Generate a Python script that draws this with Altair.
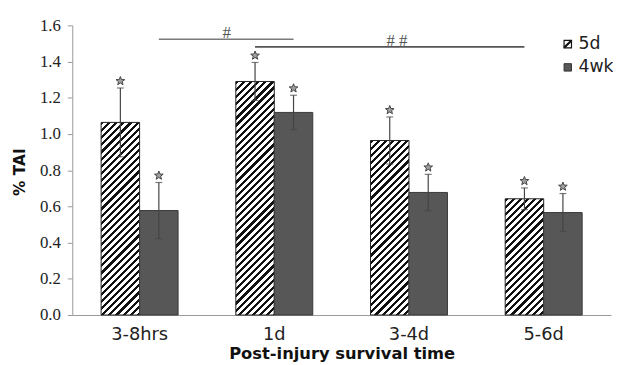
import altair as alt
import pandas as pd
import math

# ---------------- data ----------------
categories = ["3-8hrs", "1d", "3-4d", "5-6d"]
series = ["5d", "4wk"]
mean_5d = [1.064, 1.29, 0.964, 0.642]
err_5d = [0.19, 0.105, 0.13, 0.06]
mean_4wk = [0.577, 1.119, 0.677, 0.566]
err_4wk = [0.155, 0.095, 0.10, 0.105]
y_ticks = [0.0, 0.2, 0.4, 0.6, 0.8, 1.0, 1.2, 1.4, 1.6]

sig_labels = ["#", "# #"]
sig_from = ["3-8hrs", "1d"]
sig_to = ["1d", "5-6d"]
sig_level = [1.523, 1.481]

# ---------------- layout / style ----------------
PLOT_W, PLOT_H = 545, 293
Y_MAX = 1.6
PX_PER_UNIT = PLOT_H / Y_MAX
PAD_INNER = 0.4286
BAR_W = PLOT_W / len(categories) * (1 - PAD_INNER) / 2
GRAY = "#575757"
AXIS_GRAY = "#9a9a9a"
ERR_COL = "#444444"
SERIF = "Liberation Serif, Times New Roman, serif"

rows = []
for i, c in enumerate(categories):
    rows.append({"cat": c, "series": "5d", "mean": mean_5d[i],
                 "lo": mean_5d[i] - err_5d[i], "hi": mean_5d[i] + err_5d[i]})
    rows.append({"cat": c, "series": "4wk", "mean": mean_4wk[i],
                 "lo": mean_4wk[i] - err_4wk[i], "hi": mean_4wk[i] + err_4wk[i]})
df = pd.DataFrame(rows)

sig_df = pd.DataFrame({"label": sig_labels, "from": sig_from, "to": sig_to, "level": sig_level})
leg_df = pd.DataFrame({"label": series})


def hatch(w, h, period=7.2, frac=0.44, color="#111111"):
    L = w + h
    S = w * w + h * h
    dt = period / L
    stops = []
    k = 0
    while k * dt < 1:
        o = k * dt
        ob = min(o + frac * dt, 1.0)
        oe = min(o + dt, 1.0)
        stops += [
            {"offset": round(o, 6), "color": color},
            {"offset": round(ob, 6), "color": color},
            {"offset": round(ob, 6), "color": "#ffffff"},
            {"offset": round(oe, 6), "color": "#ffffff"},
        ]
        k += 1
    return {"gradient": "linear", "x1": 0, "y1": 0,
            "x2": w * L / S, "y2": h * L / S, "stops": stops}


x_axis = alt.Axis(
    title="Post-injury survival time", labelAngle=0, ticks=False, labelPadding=11,
    labelFont="DejaVu Sans", labelFontSize=18, labelColor="#222222",
    titleFont="DejaVu Sans", titleFontWeight="bold", titleFontSize=16.5, titleColor="#111111",
    titleY=44, titleBaseline="alphabetic", domainColor=AXIS_GRAY, domainWidth=1,
)
y_axis = alt.Axis(
    title="% TAI", values=y_ticks, format=".1f", grid=False,
    labelFont=SERIF, labelFontSize=17, labelColor="#222222", labelPadding=7,
    tickSize=5, tickColor=AXIS_GRAY, domainColor=AXIS_GRAY,
    titleFont="DejaVu Sans", titleFontWeight="bold", titleFontSize=15.5, titleColor="#111111",
    titleX=-53, titleY=148, titleBaseline="middle",
)

xscale = alt.Scale(domain=categories, paddingInner=PAD_INNER, paddingOuter=PAD_INNER / 2)
yscale = alt.Scale(domain=[0, Y_MAX], nice=False, zero=True)
X = alt.X("cat:N", sort=categories, scale=xscale, axis=x_axis)
XO = alt.XOffset("series:N", sort=series, scale=alt.Scale(domain=series, paddingInner=0, paddingOuter=0))


def Yf(field):
    return alt.Y(field, type="quantitative", scale=yscale, axis=y_axis)


def Xf(field):
    return alt.X(field, type="nominal", sort=categories, scale=xscale, axis=x_axis)


base = alt.Chart(df)
layers = []

# hatched 5d bars (one layer each, gradient sized to bar)
for i, c in enumerate(categories):
    g = hatch(BAR_W, mean_5d[i] * PX_PER_UNIT)
    layers.append(
        base.transform_filter(f"datum.cat == '{c}' && datum.series == '5d'")
        .mark_bar(fill=g, stroke="#222222", strokeWidth=1)
        .encode(x=X, xOffset=XO, y=Yf("mean"))
    )

# gray 4wk bars
layers.append(
    base.transform_filter("datum.series == '4wk'")
    .mark_bar(fill=GRAY, stroke="#3a3a3a", strokeWidth=1)
    .encode(x=X, xOffset=XO, y=Yf("mean"))
)

# error bars
layers.append(
    base.mark_rule(color=ERR_COL, strokeWidth=1.2)
    .encode(x=X, xOffset=XO, y=Yf("lo"), y2="hi:Q")
)
for f in ["hi", "lo"]:
    layers.append(
        base.mark_tick(orient="horizontal", size=7, thickness=1.2, color=ERR_COL)
        .encode(x=X, xOffset=XO, y=Yf(f))
    )

# significance stars
pts = []
for k in range(10):
    r = 1.0 if k % 2 == 0 else 0.42
    a = -math.pi / 2 + k * math.pi / 5
    pts.append(f"{r * math.cos(a):.3f},{r * math.sin(a):.3f}")
STAR = "M" + " L".join(pts) + " Z"
layers.append(
    base.mark_point(shape=STAR, size=85, filled=True, fill="#a0a0a0", stroke="#444444",
                    strokeWidth=1, yOffset=-7, opacity=1)
    .encode(x=X, xOffset=XO, y=Yf("hi"))
)

# comparison lines
sig = alt.Chart(sig_df)
layers.append(
    sig.transform_filter("datum.label == '#'")
    .mark_rule(color="#7a7a7a", strokeWidth=1.6, xOffset=BAR_W / 2, x2Offset=BAR_W / 2)
    .encode(x=Xf("from"), x2="to:N", y=Yf("level"))
)
layers.append(
    sig.transform_filter("datum.label == '# #'")
    .mark_rule(color="#555555", strokeWidth=1.6, xOffset=-BAR_W / 2, x2Offset=-BAR_W / 2)
    .encode(x=Xf("from"), x2="to:N", y=Yf("level"))
)
for lab, dx in [("#", 88), ("# #", 124)]:
    layers.append(
        sig.transform_filter(f"datum.label == '{lab}'")
        .mark_text(font=SERIF, fontSize=17, color="#555555", baseline="alphabetic", dx=dx, dy=-1)
        .encode(x=Xf("from"), y=Yf("level"), text="label:N")
    )

# custom legend
leg = alt.Chart(leg_df)
LX0, LX1, LTX = 497.5, 505, 512
LY = [19, 42.5]
layers.append(
    leg.transform_filter("datum.label == '5d'").mark_rect(fill="#ffffff", stroke="#111111", strokeWidth=1.2)
    .encode(x=alt.value(LX0), x2=alt.value(LX1), y=alt.value(LY[0] - 3.75), y2=alt.value(LY[0] + 3.75))
)
layers.append(
    leg.transform_filter("datum.label == '5d'").mark_rule(color="#111111", strokeWidth=2.2)
    .encode(x=alt.value(LX0), x2=alt.value(LX1), y=alt.value(LY[0] + 3.75), y2=alt.value(LY[0] - 3.75))
)
layers.append(
    leg.transform_filter("datum.label == '4wk'").mark_rect(fill=GRAY, stroke="#333333", strokeWidth=1)
    .encode(x=alt.value(LX0), x2=alt.value(LX1), y=alt.value(LY[1] - 3.75), y2=alt.value(LY[1] + 3.75))
)
for j, s in enumerate(series):
    layers.append(
        leg.transform_filter(f"datum.label == '{s}'")
        .mark_text(font="DejaVu Sans", fontSize=17.5, color="#222222", align="left", baseline="middle")
        .encode(x=alt.value(LTX), y=alt.value(LY[j]), text="label:N")
    )

chart = (
    alt.layer(*layers)
    .properties(width=PLOT_W, height=PLOT_H, autosize="none",
                padding={"left": 65, "top": 15.5, "right": 2, "bottom": 48},
                background="white")
    .configure_view(strokeWidth=0)
)

chart.save("out.html", embed_options={"renderer": "svg", "actions": False})
